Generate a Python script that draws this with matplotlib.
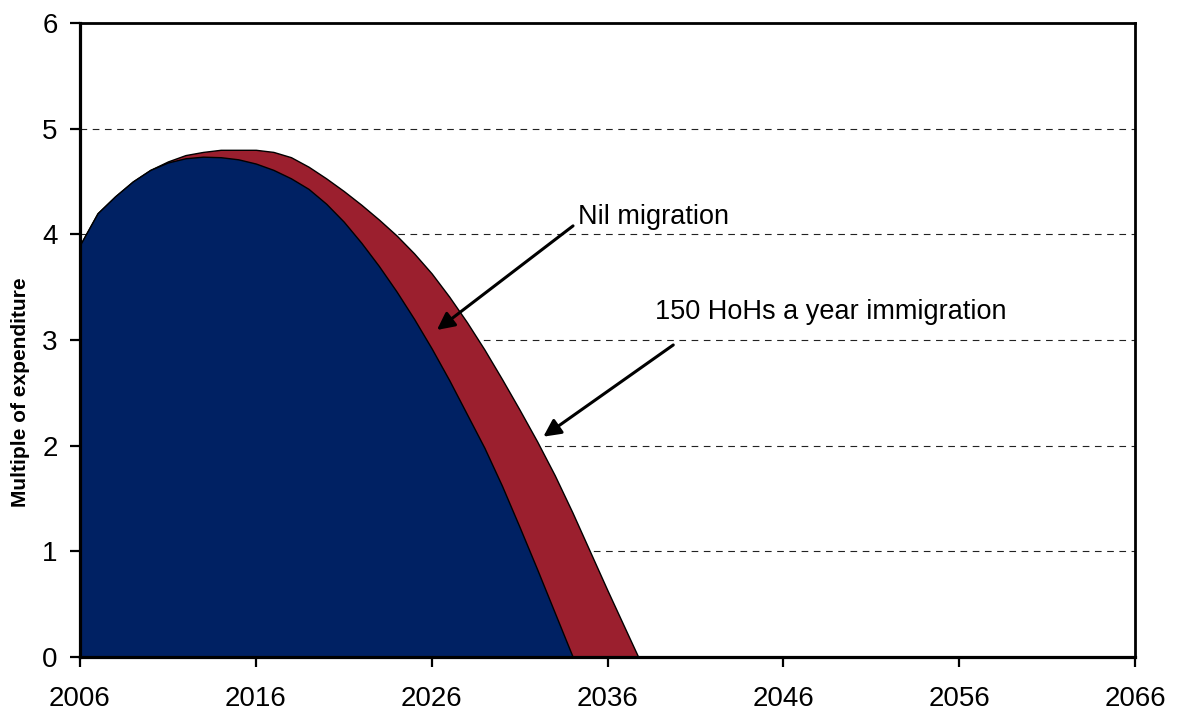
import numpy as np
import matplotlib
matplotlib.use("Agg")
import matplotlib.pyplot as plt

plt.rcParams['font.family'] = ['Liberation Sans', 'DejaVu Sans']

# Data (multiple of expenditure per year)
years = list(range(2006, 2039))
nil_migration = [3.90, 4.20, 4.36, 4.50, 4.61, 4.68, 4.72, 4.735, 4.73, 4.71,
                 4.67, 4.61, 4.53, 4.43, 4.29, 4.12, 3.92, 3.70, 3.46, 3.20,
                 2.92, 2.62, 2.30, 1.98, 1.62, 1.23, 0.83, 0.42, 0.01, -0.40,
                 -0.81, -1.22, -1.63]
immigration_150 = [3.90, 4.20, 4.36, 4.50, 4.61, 4.69, 4.75, 4.78, 4.80, 4.80,
                   4.80, 4.78, 4.73, 4.64, 4.53, 4.41, 4.28, 4.14, 3.99, 3.82,
                   3.63, 3.41, 3.17, 2.91, 2.63, 2.34, 2.04, 1.72, 1.37, 1.00,
                   0.63, 0.27, -0.09]

x_ticks = list(range(2006, 2067, 10))
y_ticks = [0, 1, 2, 3, 4, 5, 6]

fig = plt.figure(figsize=(11.8, 7.11), dpi=100)
ax = fig.add_axes([80 / 1180, 1 - 657 / 711, (1135 - 80) / 1180, (657 - 23) / 711])

ax.fill_between(years, immigration_150, 0, facecolor='#9B1F2E', edgecolor='black',
                linewidth=1.0, zorder=2)
ax.fill_between(years, nil_migration, 0, facecolor='#002163', edgecolor='black',
                linewidth=1.0, zorder=3)

ax.set_xlim(2006, 2066)
ax.set_ylim(0, 6)
ax.set_xticks(x_ticks)
ax.set_yticks(y_ticks)

ax.yaxis.grid(True, linestyle=(0, (6, 5)), color='#222222', linewidth=0.8, zorder=1)
ax.set_axisbelow(True)

for side in ['left', 'bottom']:
    ax.spines[side].set_linewidth(2.3)
for side in ['top', 'right']:
    ax.spines[side].set_linewidth(2.0)
for s in ax.spines.values():
    s.set_zorder(5)

ax.tick_params(axis='both', direction='out', length=7, width=1.6, labelsize=20)
ax.tick_params(axis='x', pad=14)
ax.tick_params(axis='y', pad=9)
ax.set_ylabel('Multiple of expenditure', fontsize=15, fontweight='bold')
ax.yaxis.set_label_coords(-0.047, 0.418)

ax.text(2034.3, 4.16, 'Nil migration', fontsize=19.5, ha='left', va='center')
ax.annotate('', xy=(2026.3, 3.095), xytext=(2034.04, 4.08),
            arrowprops=dict(arrowstyle='-|>', lw=2.2, color='black',
                            mutation_scale=26, shrinkA=0, shrinkB=0), zorder=6)

ax.text(2038.7, 3.265, '150 HoHs a year immigration', fontsize=19.5, ha='left', va='center')
ax.annotate('', xy=(2032.35, 2.085), xytext=(2039.74, 2.953),
            arrowprops=dict(arrowstyle='-|>', lw=2.2, color='black',
                            mutation_scale=26, shrinkA=0, shrinkB=0), zorder=6)

fig.savefig('out.png', dpi=100)
